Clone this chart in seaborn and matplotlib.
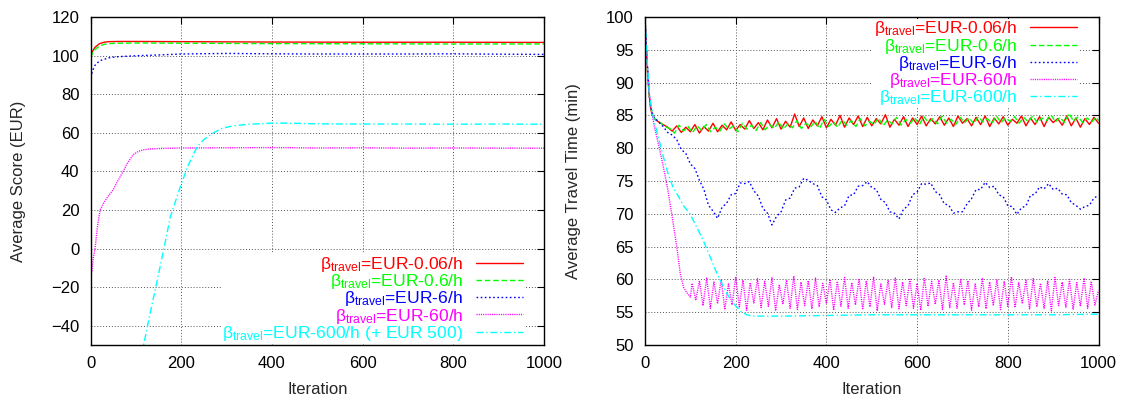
import numpy as np
import matplotlib
matplotlib.use("Agg")
import matplotlib.pyplot as plt
import seaborn as sns

# ---------------- data: left panel (Average Score, EUR) ----------------
score_red_iter = [0, 5, 10, 20, 30, 40, 60, 100, 200, 400, 600, 800, 1000]
score_red = [100.2, 102.5, 104.3, 106.2, 106.9, 107.2, 107.3, 107.3, 107.2, 107.0, 106.9, 106.9, 106.8]
score_green_iter = [0, 5, 10, 20, 30, 40, 60, 100, 200, 400, 600, 800, 1000]
score_green = [99.0, 101.5, 103.2, 105.0, 105.8, 106.2, 106.4, 106.5, 106.4, 106.2, 106.1, 106.0, 106.0]
score_blue_iter = [0, 5, 10, 20, 40, 60, 100, 150, 200, 300, 400, 500, 600, 700, 800, 900, 1000]
score_blue = [88.5, 92.5, 95.0, 97.3, 98.8, 99.4, 99.9, 100.3, 100.8, 101.1, 100.9, 100.8, 100.8, 100.8, 100.9, 100.7, 100.6]
score_mag_iter = [0, 3, 6, 10, 15, 21, 30, 40, 50, 60, 72, 82, 94, 105, 116, 130, 160, 200, 300, 400, 500,
                  600, 700, 800, 900, 1000]
score_mag = [-14.0, -12.0, -5.0, 0.0, 11.0, 20.0, 24.0, 27.5, 30.5, 35.0, 40.0, 44.5, 48.6, 50.3, 51.1, 51.6,
             51.9, 52.1, 52.2, 52.3, 52.1, 52.2, 52.0, 52.1, 52.0, 52.0]
score_cyan_iter = [100, 117, 130, 143, 160, 176, 198, 215, 235, 250, 271, 290, 315, 350, 403, 450, 500, 600,
                   700, 800, 900, 1000]
score_cyan = [-69.0, -50.0, -35.0, -21.0, -2.0, 16.5, 32.0, 43.0, 52.7, 56.5, 60.0, 62.3, 63.6, 64.4, 65.0,
              64.9, 64.6, 64.5, 64.5, 64.4, 64.5, 64.4]

# ---------------- data: right panel (Average Travel Time, min) ----------------
tt_early_iter = [0, 3, 6, 9, 12, 15, 20, 30, 40, 50]
tt_red_early = [100.0, 95.0, 91.0, 88.3, 86.3, 85.3, 84.5, 84.0, 83.6, 83.2]
tt_red_step_start = 60
tt_red_noisy = [82.6, 83.4, 82.4, 83.2, 82.5, 83.6, 82.3, 83.3, 82.6, 83.8,
                82.5, 83.5, 82.8, 84.0, 82.7, 83.6, 82.9, 84.2, 83.0, 83.9,
                82.8, 84.3, 83.1, 84.5, 82.9, 84.1, 83.2, 85.2, 83.3, 84.6,
                83.0, 84.3, 83.4, 84.8, 83.1, 84.4, 83.5, 85.0, 83.2, 84.6,
                83.6, 84.9, 83.3, 84.7, 83.4, 84.5, 83.7, 85.1, 83.2, 84.4,
                83.5, 84.8, 83.3, 84.6, 83.6, 84.9, 83.4, 84.5, 83.7, 84.8,
                83.5, 84.6, 83.3, 84.9, 83.8, 84.5, 83.4, 84.7, 83.6, 84.9,
                83.3, 84.6, 83.7, 84.8, 83.5, 84.4, 83.8, 84.9, 83.4, 84.6,
                83.6, 84.8, 83.3, 84.7, 83.9, 84.5, 83.5, 84.9, 83.4, 84.6,
                83.2, 84.5, 83.6, 84.7, 83.8]
tt_green_early = [100.0, 95.2, 91.3, 88.5, 86.5, 85.5, 84.6, 84.1, 83.5, 83.1]
tt_green_step_start = 55
tt_green_noisy = [83.0, 82.3, 83.5, 82.6, 83.3, 82.4, 83.4, 82.7, 83.6, 82.5,
                  83.2, 82.6, 83.7, 82.9, 83.4, 82.5, 83.8, 82.9, 83.5, 82.7,
                  83.9, 82.8, 83.6, 83.0, 84.0, 82.9, 83.7, 83.1, 84.2, 83.0,
                  83.8, 83.2, 84.1, 83.0, 84.4, 83.3, 84.0, 83.2, 84.3, 83.5,
                  84.2, 83.3, 84.5, 83.4, 84.1, 83.6, 84.6, 83.4, 84.3, 83.7,
                  84.7, 83.5, 84.4, 83.8, 84.6, 83.6, 84.8, 83.9, 84.5, 83.7,
                  84.9, 83.8, 84.4, 83.6, 84.7, 83.9, 84.6, 83.7, 84.8, 84.0,
                  84.5, 83.8, 84.9, 83.9, 84.6, 84.1, 84.8, 83.8, 84.7, 84.0,
                  84.9, 83.9, 84.6, 84.2, 85.1, 84.0, 84.7, 83.9, 85.3, 84.1,
                  84.8, 83.9, 84.6, 84.0, 84.7, 84.2]
tt_blue_iter = [0, 5, 10, 15, 20, 30, 40, 50]
tt_blue_early = [100.0, 93.0, 87.5, 85.5, 84.7, 84.0, 83.3, 82.4]
tt_blue_step_start = 60
tt_blue_wave = [82.0, 81.3, 79.8, 79.2, 77.6, 76.9, 75.1, 73.7, 71.3, 70.4,
                69.3, 71.0, 71.6, 72.9, 73.1, 74.7, 74.6, 74.9, 73.5, 72.7,
                70.8, 70.1, 68.3, 69.6, 70.3, 72.1, 72.4, 73.9, 74.1, 75.4,
                75.1, 74.6, 74.3, 72.6, 72.1, 70.6, 70.2, 70.9, 71.2, 72.8,
                72.9, 74.2, 74.3, 74.9, 74.0, 73.7, 72.2, 71.7, 70.3, 70.1,
                69.2, 70.7, 71.2, 72.9, 73.3, 74.6, 74.5, 74.7, 73.4, 72.9,
                71.5, 71.3, 70.1, 70.3, 70.3, 71.5, 72.3, 73.7, 73.7, 74.8,
                74.0, 74.2, 72.9, 72.6, 71.2, 71.1, 69.9, 70.9, 71.2, 72.8,
                73.0, 74.1, 73.8, 74.6, 73.7, 73.9, 73.0, 72.9, 71.7, 71.3,
                70.7, 71.1, 71.3, 72.4, 72.8]
tt_mag_iter = [0, 5, 10, 15, 20, 30, 40, 50, 60, 70, 78, 85, 92, 100]
tt_mag_early = [100.0, 93.0, 88.0, 85.5, 83.5, 80.5, 77.3, 73.8, 69.5, 65.0, 60.8, 58.8, 58.0, 57.3]
tt_mag_osc_start = 104
tt_mag_osc_step = 8
tt_mag_high = [59.4, 59.8, 60.2, 59.6, 60.0, 59.3, 60.4, 59.9, 59.5, 60.1, 59.7, 60.3, 59.2, 59.9,
               60.5, 59.6, 59.8, 60.2, 59.4, 60.0, 59.7, 60.3, 59.5, 60.1, 59.8, 60.4, 59.3, 59.9,
               60.2, 59.6, 60.0, 59.4, 60.3, 59.7, 59.9, 60.5, 59.5, 60.1, 59.8, 59.3, 60.2, 59.6,
               60.0, 59.7, 60.4, 59.5, 59.9, 60.1, 59.4, 59.8, 60.3, 59.6, 60.0, 59.5, 60.2, 59.7]
tt_mag_low = [56.8, 56.0, 55.6, 56.3, 55.4, 56.1, 55.8, 55.3, 56.4, 55.7, 55.9, 55.2, 56.2, 55.6,
              55.4, 56.0, 55.5, 55.8, 56.3, 55.3, 55.9, 55.6, 56.1, 55.4, 55.8, 55.2, 56.2, 55.7,
              55.5, 56.0, 55.6, 55.3, 55.9, 56.2, 55.4, 55.7, 55.6, 56.1, 55.3, 55.8, 55.5, 56.0,
              55.4, 55.9, 55.7, 56.3, 55.5, 55.8, 55.6, 55.2, 56.0, 55.7, 55.4, 55.9, 55.6, 56.1]
tt_mag_end = 58.3
tt_cyan_iter = [0, 5, 10, 15, 20, 30, 40, 50, 62, 75, 85, 99, 110, 128, 145, 158, 170, 180, 190, 202,
                212, 224, 240, 300, 400, 500, 600, 700, 800, 900, 1000]
tt_cyan = [100.0, 93.0, 88.0, 85.8, 84.2, 81.5, 78.8, 76.3, 74.0, 72.5, 71.2, 70.0, 68.5, 66.0, 63.2,
           61.0, 59.3, 57.9, 56.8, 55.8, 55.1, 54.6, 54.4, 54.4, 54.5, 54.6, 54.6, 54.6, 54.6, 54.6, 54.7]

labels_left = [r"$\mathrm{\beta}_{\mathrm{travel}}$=EUR-0.06/h",
               r"$\mathrm{\beta}_{\mathrm{travel}}$=EUR-0.6/h",
               r"$\mathrm{\beta}_{\mathrm{travel}}$=EUR-6/h",
               r"$\mathrm{\beta}_{\mathrm{travel}}$=EUR-60/h",
               r"$\mathrm{\beta}_{\mathrm{travel}}$=EUR-600/h (+ EUR 500)"]
labels_right = [r"$\mathrm{\beta}_{\mathrm{travel}}$=EUR-0.06/h",
                r"$\mathrm{\beta}_{\mathrm{travel}}$=EUR-0.6/h",
                r"$\mathrm{\beta}_{\mathrm{travel}}$=EUR-6/h",
                r"$\mathrm{\beta}_{\mathrm{travel}}$=EUR-60/h",
                r"$\mathrm{\beta}_{\mathrm{travel}}$=EUR-600/h"]
xticks = [0, 200, 400, 600, 800, 1000]
yticks_left = [-40, -20, 0, 20, 40, 60, 80, 100, 120]
yticks_right = [50, 55, 60, 65, 70, 75, 80, 85, 90, 95, 100]

# ---------------- styling ----------------
sns.set_style("white")
plt.rcParams["font.family"] = ["Liberation Sans", "DejaVu Sans"]
plt.rcParams["mathtext.fontset"] = "custom"
plt.rcParams["mathtext.rm"] = "Liberation Sans"
plt.rcParams["mathtext.it"] = "Liberation Sans:italic"
plt.rcParams["mathtext.bf"] = "Liberation Sans:bold"

colors = ["#ff0000", "#00ff00", "#0000ff", "#ff00ff", "#00ffff"]
styles = ["-", (0, (4, 2)), (0, (1.2, 1.8)), (0, (0.8, 0.8)), (0, (5, 2, 1, 2))]
FS = 12
LFS = 12.6

fig = plt.figure(figsize=(11.29, 4.01), dpi=100)
axL = fig.add_axes([0.0802, 0.1397, 0.4017, 0.8180])
axR = fig.add_axes([0.5713, 0.1397, 0.4017, 0.8180])

# left panel
left_series = [(score_red_iter, score_red), (score_green_iter, score_green),
               (score_blue_iter, score_blue), (score_mag_iter, score_mag),
               (score_cyan_iter, score_cyan)]
for (xs, ys), c, ls, lab in zip(left_series, colors, styles, labels_left):
    sns.lineplot(x=np.array(xs, float), y=np.array(ys, float), ax=axL, color=c, linestyle=ls,
                 linewidth=1.0, label=lab, estimator=None, sort=False)

# right panel
red_x = np.concatenate([tt_early_iter, np.arange(tt_red_step_start, 1001, 10)])
red_y = np.concatenate([tt_red_early, tt_red_noisy])
green_x = np.concatenate([tt_early_iter, np.arange(tt_green_step_start, 996, 10), [1000]])
green_y = np.concatenate([tt_green_early, tt_green_noisy])
blue_x = np.concatenate([tt_blue_iter, np.arange(tt_blue_step_start, 1001, 10)])
blue_y = np.concatenate([tt_blue_early, tt_blue_wave])
osc = np.empty(2 * len(tt_mag_high))
osc[0::2] = tt_mag_high
osc[1::2] = tt_mag_low
mag_x = np.concatenate([tt_mag_iter, tt_mag_osc_start + tt_mag_osc_step * np.arange(len(osc)), [1000]])
mag_y = np.concatenate([tt_mag_early, osc, [tt_mag_end]])
right_series = [(red_x, red_y), (green_x, green_y), (blue_x, blue_y), (mag_x, mag_y),
                (np.array(tt_cyan_iter, float), np.array(tt_cyan, float))]
for (xs, ys), c, ls, lab in zip(right_series, colors, styles, labels_right):
    sns.lineplot(x=xs, y=ys, ax=axR, color=c, linestyle=ls,
                 linewidth=1.0, label=lab, estimator=None, sort=False)

for ax, yt, ylim, ylab in [(axL, yticks_left, (-50, 120), "Average Score (EUR)"),
                           (axR, yticks_right, (50, 100), "Average Travel Time (min)")]:
    ax.set_xlim(0, 1000)
    ax.set_ylim(*ylim)
    ax.set_xticks(xticks)
    ax.set_yticks(yt)
    ax.set_xlabel("Iteration", fontsize=FS, labelpad=8)
    ax.set_ylabel(ylab, fontsize=FS, labelpad=18)
    ax.tick_params(direction="in", length=5, width=0.8, top=True, right=True,
                   labelsize=FS, pad=8, colors="black")
    ax.grid(True, color="#555555", linewidth=0.7, linestyle=(0, (1, 2)))
    for s in ax.spines.values():
        s.set_color("black")
        s.set_linewidth(1.0)
    ax.set_axisbelow(True)

leg_kw = dict(markerfirst=False, labelcolor="linecolor", fontsize=LFS,
              frameon=True, framealpha=1.0, edgecolor="none", facecolor="white",
              fancybox=False, handlelength=2.7, handletextpad=0.7, labelspacing=-0.1,
              borderpad=0.05, borderaxespad=0.0)
legL = axL.legend(loc="lower right", bbox_to_anchor=(0.955, 0.004), **leg_kw)
legR = axR.legend(loc="upper right", bbox_to_anchor=(0.954, 0.995), **leg_kw)

fig.savefig("out.png", dpi=100)
